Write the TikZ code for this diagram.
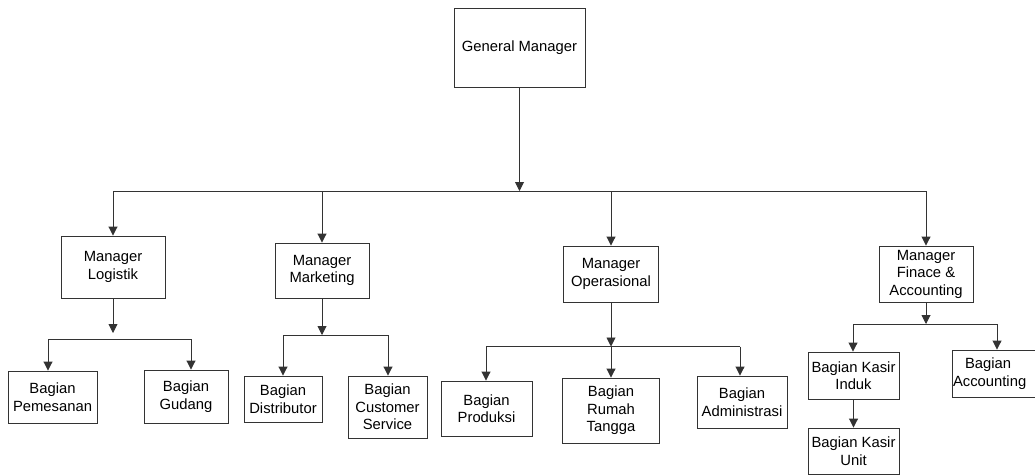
\documentclass[tikz,border=0pt]{standalone}
\usepackage{fontspec}
\setmainfont{Liberation Sans}
\usetikzlibrary{arrows.meta}
\begin{document}
\begin{tikzpicture}[x=1pt,y=-1pt,
  box/.style={draw=black!80, line width=0.9pt, fill=white, rectangle, inner sep=0pt,
    align=center, font=\fontsize{14.8}{17.5}\selectfont},
  conn/.style={draw=black!80, line width=0.9pt},
  arr/.style={conn, -{Triangle[width=9pt,length=9pt]}}]
\useasboundingbox (0,0) rectangle (1035,475);
% boxes
\node[box, minimum width=131pt, minimum height=79pt] (gm) at (519.5,47.5) {General Manager};
\node[box, minimum width=104pt, minimum height=62pt] (log) at (113,267) {Manager\\Logistik};
\node[box, minimum width=94pt, minimum height=55pt] (mkt) at (322,270.5) {Manager\\Marketing};
\node[box, minimum width=95pt, minimum height=56pt] (ops) at (611,274) {Manager\\Operasional};
\node[box, minimum width=94pt, minimum height=56pt] (fin) at (926,274) {Manager\\Finace \&\\Accounting};
\node[box, minimum width=89pt, minimum height=52pt] (pem) at (52.5,397) {Bagian\\Pemesanan};
\node[box, minimum width=84pt, minimum height=53pt] (gud) at (186,396.5) {Bagian\\Gudang};
\node[box, minimum width=78pt, minimum height=46pt] (dis) at (283,399) {Bagian\\Distributor};
\node[box, minimum width=79pt, minimum height=62pt] (cs) at (387.5,407) {Bagian\\Customer\\Service};
\node[box, minimum width=91pt, minimum height=55pt] (pro) at (486.5,408.5) {Bagian\\Produksi};
\node[box, minimum width=97pt, minimum height=65pt] (rt) at (611,410.5) {Bagian\\Rumah\\Tangga};
\node[box, minimum width=90pt, minimum height=52pt] (adm) at (742,402) {Bagian\\Administrasi};
\node[box, minimum width=91pt, minimum height=47pt] (ki) at (853.5,375.5) {Bagian Kasir\\Induk};
\node[box, minimum width=91pt, minimum height=46pt] (ku) at (853.5,451) {Bagian Kasir\\Unit};
\node[box, minimum width=88pt, minimum height=47pt, text width=88pt, align=left] (acc) at (996,373.5) {\hspace{13pt}Bagian\\[0pt]\hspace{1pt}Accounting};
% bus coordinates
\coordinate (gmE) at (519.5,191);
\coordinate (bL) at (113,191);
\coordinate (bM) at (322,191);
\coordinate (bO) at (611,191);
\coordinate (bR) at (926,191);
\coordinate (logE) at (113,333);
\coordinate (lL) at (48,339);
\coordinate (lR) at (191,339);
\coordinate (mL) at (283,335);
\coordinate (mR) at (388,335);
\coordinate (oL) at (486,346.5);
\coordinate (oM) at (611,346.5);
\coordinate (oR) at (740,346.5);
\coordinate (fL) at (853,324);
\coordinate (fM) at (926,324);
\coordinate (fR) at (997,324);
% connectors
\draw[arr] (gm.south) -- (gmE);
\draw[conn] (bL) -- (bR);
\draw[arr] (bL) -- (bL |- log.north);
\draw[arr] (bM) -- (bM |- mkt.north);
\draw[arr] (bO) -- (bO |- ops.north);
\draw[arr] (bR) -- (bR |- fin.north);
\draw[arr] (log.south) -- (logE);
\draw[conn] (lL) -- (lR);
\draw[arr] (lL) -- (lL |- pem.north);
\draw[arr] (lR) -- (lR |- gud.north);
\draw[arr] (mkt.south) -- (mkt.south |- mL);
\draw[conn] (mL) -- (mR);
\draw[arr] (mL) -- (mL |- dis.north);
\draw[arr] (mR) -- (mR |- cs.north);
\draw[arr] (ops.south) -- (oM);
\draw[conn] (oL) -- (oR);
\draw[arr] (oL) -- (oL |- pro.north);
\draw[arr] (oM) -- (oM |- rt.north);
\draw[arr] (oR) -- (oR |- adm.north);
\draw[arr] (fin.south) -- (fM);
\draw[conn] (fL) -- (fR);
\draw[arr] (fL) -- (fL |- ki.north);
\draw[arr] (fR) -- (fR |- acc.north);
\draw[arr] (ki.south) -- (ku.north);
\end{tikzpicture}
\end{document}
